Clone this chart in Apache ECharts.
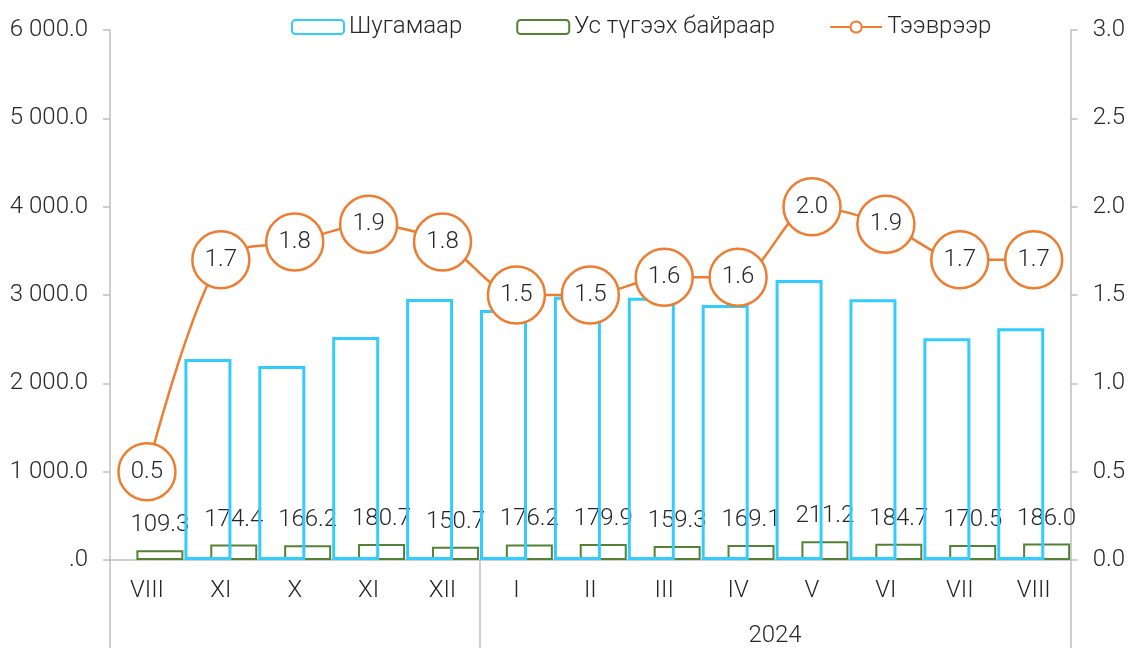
<!DOCTYPE html>
<html>
<head>
<meta charset="utf-8">
<script src="https://cdn.jsdelivr.net/npm/echarts@6/dist/echarts.min.js"></script>
<style>
  html, body { margin: 0; padding: 0; background: #fff; }
  #chart { width: 1128px; height: 648px; }
</style>
</head>
<body>
<div id="chart"></div>
<script>
// Month categories (Aug 2023 – Aug 2024)
const months = ['VIII', 'XI', 'X', 'XI', 'XII', 'I', 'II', 'III', 'IV', 'V', 'VI', 'VII', 'VIII'];
// Year group label on the second axis row
const yearLabel = '2024';
const yearGroupStart = 5;   // index of the first month of 2024

// Series values
const pipeline = [null, 2275, 2196, 2525, 2955, 2830, 2981, 2970, 2887, 3170, 2951, 2510, 2623];
const waterStation = [109.3, 174.4, 166.2, 180.7, 150.7, 176.2, 179.9, 159.3, 169.1, 211.2, 184.7, 170.5, 186.0];
const transport = [0.5, 1.7, 1.8, 1.9, 1.8, 1.5, 1.5, 1.6, 1.6, 2.0, 1.9, 1.7, 1.7];

const seriesNames = ['Шугамаар', 'Ус түгээх байраар', 'Тээврээр'];

const FONT = 'Roboto';
const FS = 24;
const TEXT = '#262626';
const AXIS = '#BFBFBF';
const BLUE = '#33CCFF';
const GREEN = '#548235';
const ORANGE = '#ED7D31';

function fmtLeft(v) {
  if (v === 0) return '.0';
  const s = v.toFixed(1);
  const [i, d] = s.split('.');
  return i.replace(/\B(?=(\d{3})+(?!\d))/g, ' ') + '.' + d;
}

const txt = { fontSize: FS, fontFamily: FONT, fontWeight: 300, color: TEXT };

const chart = echarts.init(document.getElementById('chart'));
chart.setOption({
  animation: false,
  textStyle: { fontFamily: FONT, fontWeight: 300, color: TEXT },
  grid: { left: 110, right: 56, top: 30, bottom: 88, containLabel: false },
  legend: {
    left: 286, top: 10,
    itemWidth: 52, itemHeight: 14, itemGap: 54,
    textStyle: txt,
    data: seriesNames
  },
  xAxis: [
    {
      type: 'category', data: months,
      axisLine: { lineStyle: { color: AXIS, width: 1.5 } },
      axisTick: { show: false },
      axisLabel: Object.assign({ margin: 19 }, txt)
    },
    {
      // second row: year grouping with separator lines
      type: 'value', min: 0, max: months.length, position: 'bottom',
      axisLine: { show: false },
      splitLine: { show: false },
      axisTick: { show: true, customValues: [0, yearGroupStart, months.length], length: 88, lineStyle: { color: AXIS, width: 1.5 } },
      axisLabel: Object.assign({
        customValues: [(yearGroupStart + months.length) / 2],
        formatter: () => yearLabel,
        margin: 64
      }, txt)
    }
  ],
  yAxis: [
    {
      type: 'value', min: 0, max: 6000, interval: 1000,
      axisLine: { show: true, lineStyle: { color: AXIS, width: 1.5 } },
      axisTick: { show: true, length: 7, lineStyle: { color: AXIS, width: 1.5 } },
      splitLine: { show: false },
      axisLabel: Object.assign({ formatter: fmtLeft, margin: 22 }, txt)
    },
    {
      type: 'value', min: 0, max: 3, interval: 0.5, position: 'right',
      axisLine: { show: true, lineStyle: { color: AXIS, width: 1.5 } },
      axisTick: { show: true, length: 7, lineStyle: { color: AXIS, width: 1.5 } },
      splitLine: { show: false },
      axisLabel: Object.assign({ formatter: v => v.toFixed(1), margin: 22 }, txt)
    }
  ],
  series: [
    {
      name: seriesNames[0], type: 'bar', data: pipeline,
      barWidth: 47, barGap: '-45%', z: 3,
      itemStyle: { color: 'rgba(255,255,255,0)', borderColor: BLUE, borderWidth: 3 }
    },
    {
      name: seriesNames[1], type: 'bar', data: waterStation,
      barWidth: 47, barGap: '-45%', z: 2,
      itemStyle: { color: 'rgba(255,255,255,0)', borderColor: GREEN, borderWidth: 2 },
      label: Object.assign({
        show: true, position: 'top', distance: 13,
        formatter: p => p.value.toFixed(1)
      }, txt)
    },
    {
      name: seriesNames[2], type: 'line', yAxisIndex: 1, data: transport,
      smooth: 0.3, z: 5,
      lineStyle: { color: ORANGE, width: 2.5 },
      symbol: 'circle', symbolSize: 57,
      itemStyle: { color: '#fff', borderColor: ORANGE, borderWidth: 2.5 },
      label: Object.assign({
        show: true, position: 'inside',
        formatter: p => p.value.toFixed(1)
      }, txt)
    }
  ]
});
</script>
</body>
</html>
